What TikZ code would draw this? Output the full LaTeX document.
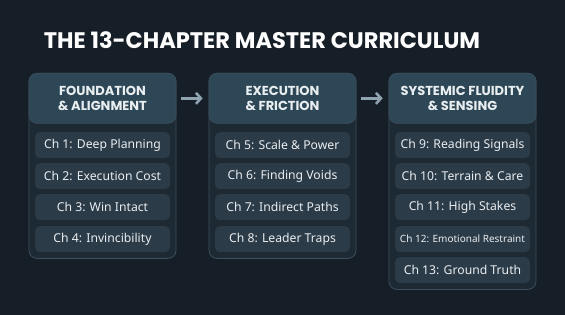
\documentclass[tikz,border=0pt]{standalone}
\usepackage{fontspec}
\setmainfont{Noto Sans}
\newfontfamily\headfont{Poppins}
\usetikzlibrary{arrows.meta}
\definecolor{bg}{HTML}{161F28}
\definecolor{colfill}{HTML}{1D2933}
\definecolor{colborder}{HTML}{3B4E5B}
\definecolor{headfill}{HTML}{2E4756}
\definecolor{chfill}{HTML}{2B3B48}
\definecolor{txt}{HTML}{E9EEF1}
\definecolor{arrowc}{HTML}{8FA3B0}
\tikzset{
  colbox/.style={draw=colborder, line width=0.8pt, fill=colfill, rounded corners=8pt, minimum width=147pt, anchor=north, inner sep=0pt},
  headbox/.style={fill=headfill, draw=colborder, line width=0.6pt, rounded corners=8pt, minimum width=147pt, minimum height=50pt, anchor=north, inner sep=0pt,
    text=txt, font=\headfont\bfseries\fontsize{13}{15.5}\selectfont, align=center},
  chbox/.style={fill=chfill, rounded corners=5pt, minimum width=135pt, minimum height=26pt, anchor=north, inner sep=0pt,
    text=txt, font=\fontsize{12.2}{14}\selectfont},
  flow/.style={draw=arrowc, line width=2.6pt, -{Straight Barb[length=5pt,width=11pt,line width=2.6pt]}, shorten <=5pt, shorten >=6pt},
}
\begin{document}
\begin{tikzpicture}[x=1pt,y=-1pt]
\fill[bg] (0,0) rectangle (565,315);
\useasboundingbox (0,0) rectangle (565,315);

\node[text=white, font=\headfont\bfseries\fontsize{22.5}{26}\selectfont] (title) at (262,40) {THE 13-CHAPTER MASTER CURRICULUM};

% column 1
\node[colbox, minimum height=185pt] (c1) at (102.5,73) {};
\node[headbox] (h1) at (102.5,73) {FOUNDATION\\\& ALIGNMENT};
\node[chbox] (ch1) at (102.5,132) {Ch 1: Deep Planning};
\node[chbox] (ch2) at (102.5,163) {Ch 2: Execution Cost};
\node[chbox] (ch3) at (102.5,194) {Ch 3: Win Intact};
\node[chbox] (ch4) at (102.5,226) {Ch 4: Invincibility};

% column 2
\node[colbox, minimum height=185pt] (c2) at (282.5,73) {};
\node[headbox] (h2) at (282.5,73) {EXECUTION\\\& FRICTION};
\node[chbox] (ch5) at (282.5,132) {Ch 5: Scale \& Power};
\node[chbox] (ch6) at (282.5,163) {Ch 6: Finding Voids};
\node[chbox] (ch7) at (282.5,194) {Ch 7: Indirect Paths};
\node[chbox] (ch8) at (282.5,226) {Ch 8: Leader Traps};

% column 3
\node[colbox, minimum height=216pt] (c3) at (462.5,73) {};
\node[headbox] (h3) at (462.5,73) {SYSTEMIC FLUIDITY\\\& SENSING};
\node[chbox] (ch9) at (462.5,132) {Ch 9: Reading Signals};
\node[chbox] (ch10) at (462.5,163) {Ch 10: Terrain \& Care};
\node[chbox] (ch11) at (462.5,194) {Ch 11: High Stakes};
\node[chbox, font=\fontsize{10}{12}\selectfont] (ch12) at (462.5,226) {Ch 12: Emotional Restraint};
\node[chbox] (ch13) at (462.5,257) {Ch 13: Ground Truth};

\draw[flow] (h1.east) -- (h2.west);
\draw[flow] (h2.east) -- (h3.west);
\end{tikzpicture}
\end{document}
